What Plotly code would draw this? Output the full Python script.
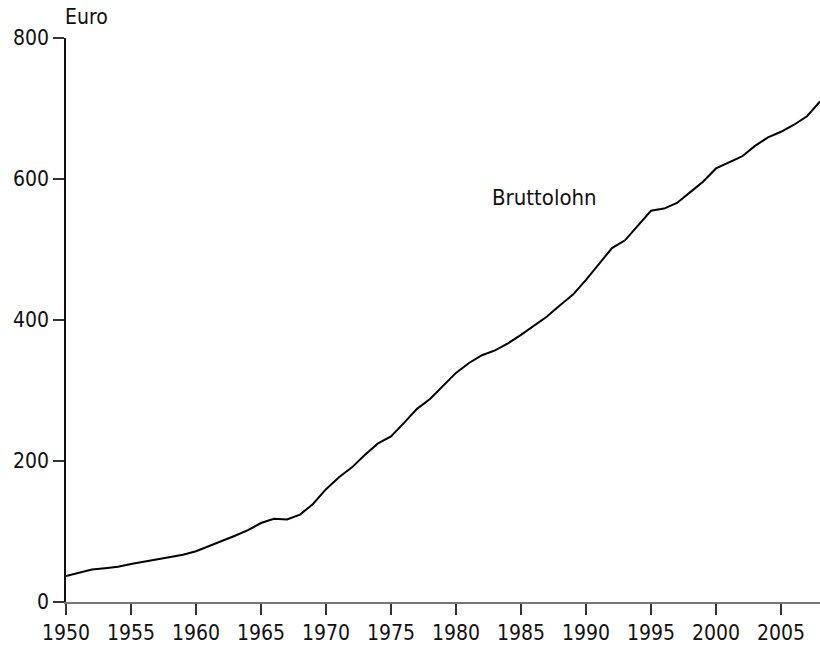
import plotly.graph_objects as go

years = list(range(1950, 2009))
bruttolohn = [37, 42, 46, 48, 50, 54, 57, 61, 64, 67,
              72, 79, 87, 94, 102, 112, 118, 117, 124, 139,
              160, 177, 191, 209, 225, 235, 254, 274, 288, 306,
              325, 339, 350, 357, 367, 379, 392, 405, 421, 436,
              457, 480, 502, 513, 534, 555, 558, 566, 581, 596,
              615, 623, 632, 647, 659, 667, 677, 689, 710]
x_ticks = [1950, 1955, 1960, 1965, 1970, 1975, 1980, 1985, 1990, 1995, 2000, 2005]
y_ticks = [0, 200, 400, 600, 800]

FONT = "DejaVu Sans Condensed, Liberation Sans Narrow, Arial Narrow, sans-serif"

fig = go.Figure()
fig.add_trace(go.Scatter(x=years, y=bruttolohn, mode="lines",
                         line=dict(color="black", width=2), showlegend=False,
                         cliponaxis=False))

fig.add_annotation(x=1986.8, y=574, text="Bruttolohn", showarrow=False,
                   font=dict(size=22, color="#111", family=FONT))
fig.add_annotation(x=0, y=1, xref="paper", yref="paper", text="Euro",
                   showarrow=False, xanchor="left", yanchor="bottom", yshift=7,
                   xshift=-3, font=dict(size=21, color="#111", family=FONT))

fig.update_layout(
    width=820, height=646,
    margin=dict(l=66, r=0, t=38, b=44),
    paper_bgcolor="white", plot_bgcolor="white",
    font=dict(family=FONT, size=21, color="#111"),
    xaxis=dict(range=[1950, 2008], tickvals=x_ticks, ticks="outside", ticklen=11,
               tickcolor="#333", tickwidth=1.5, showline=True, linecolor="#777",
               linewidth=2, showgrid=False, zeroline=False, automargin=False,
               tickfont=dict(size=21, family=FONT)),
    yaxis=dict(range=[0, 800], tickvals=y_ticks, ticks="outside", ticklen=11,
               tickcolor="#333", tickwidth=1.5, showline=True, linecolor="#111",
               linewidth=1.5, showgrid=False, zeroline=False, automargin=False,
               tickfont=dict(size=21, family=FONT)),
)

fig.write_html(
    "out.html",
    config={"displayModeBar": False},
    post_script="document.body.style.margin='0';document.body.style.overflow='hidden';",
)
